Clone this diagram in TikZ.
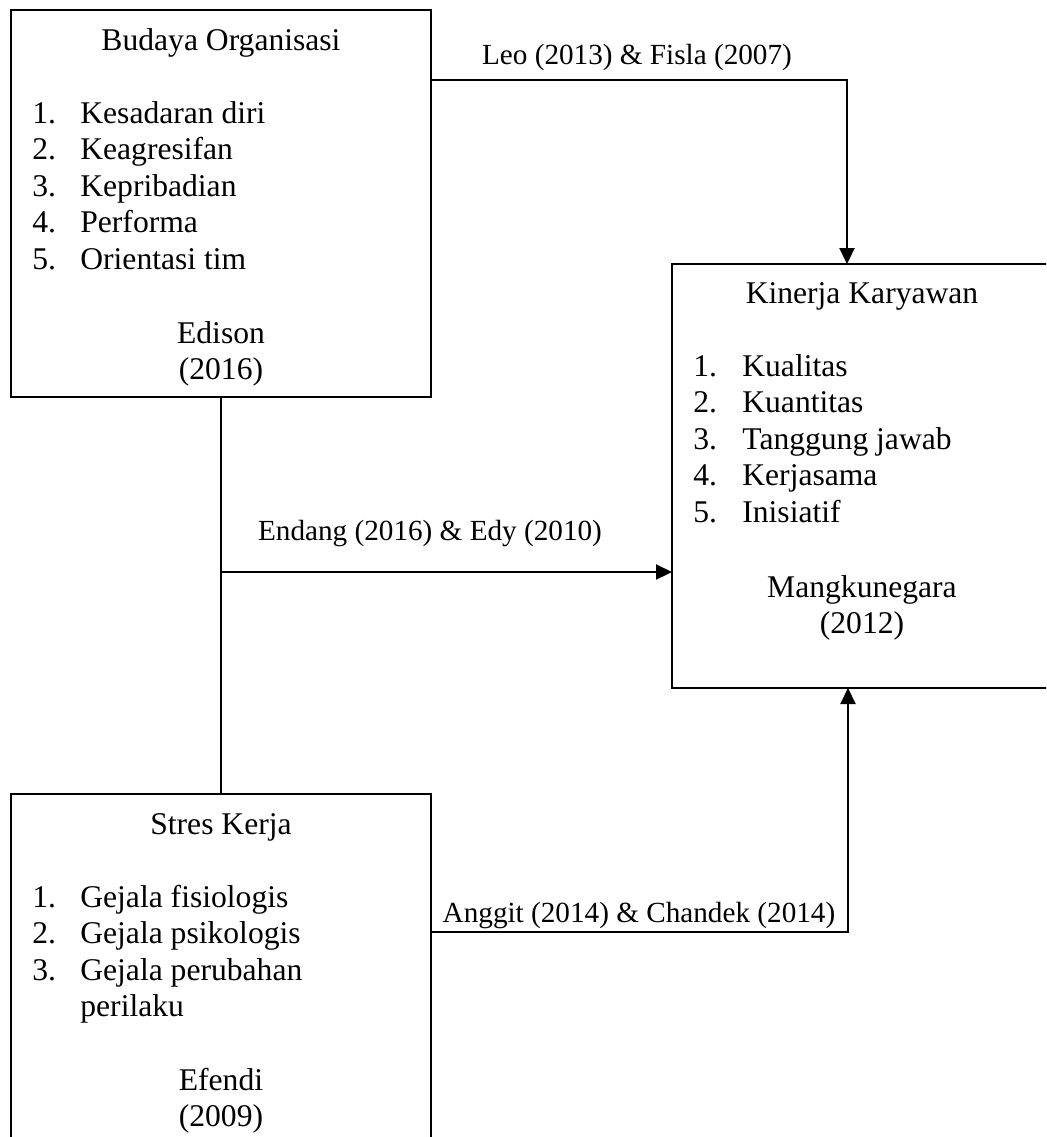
\documentclass[tikz,border=0pt]{standalone}
\usepackage{fontspec}
\setmainfont{Liberation Serif}
\usetikzlibrary{arrows.meta}

\begin{document}
\begin{tikzpicture}[
  x=0.5pt, y=-0.5pt,
  kotak/.style={draw, line width=1.1pt, inner sep=0pt, outer sep=0pt, anchor=north west},
  isi/.style={inner sep=0pt, font=\fontsize{15.8pt}{18.25pt}\selectfont},
  ket/.style={inner sep=0pt, anchor=base, font=\fontsize{14.6pt}{16.8pt}\selectfont},
  garis/.style={line width=1.1pt},
  panah/.style={-{Triangle[length=8pt, width=7.5pt]}, line width=1.1pt},
]

\useasboundingbox (0,0) rectangle (1046,1137);
\clip (0,0) rectangle (1046,1137);

% Boxes
\node[kotak, minimum width=210pt, minimum height=193.5pt] (budaya) at (11,10) {};
\node[kotak, minimum width=190pt, minimum height=212pt] (kinerja) at (672,264) {};
\node[kotak, minimum width=210pt, minimum height=185pt] (stres) at (11,794) {};

% Budaya Organisasi
\node[isi, anchor=base] (budaya-judul) at (221,50) {Budaya Organisasi};
\node[isi, anchor=base west] (budaya-daftar) at (32,123) {\begin{tabular}[t]{@{}p{24pt}@{}l@{}}
  1. & Kesadaran diri\\
  2. & Keagresifan\\
  3. & Kepribadian\\
  4. & Performa\\
  5. & Orientasi tim
\end{tabular}};
\node[isi, anchor=base] (budaya-sumber) at (221,343) {\begin{tabular}[t]{@{}c@{}}Edison\\(2016)\end{tabular}};

% Kinerja Karyawan
\node[isi, anchor=base] (kinerja-judul) at (862,303) {Kinerja Karyawan};
\node[isi, anchor=base west] (kinerja-daftar) at (693,376) {\begin{tabular}[t]{@{}p{24.5pt}@{}l@{}}
  1. & Kualitas\\
  2. & Kuantitas\\
  3. & Tanggung jawab\\
  4. & Kerjasama\\
  5. & Inisiatif
\end{tabular}};
\node[isi, anchor=base] (kinerja-sumber) at (862,597) {\begin{tabular}[t]{@{}c@{}}Mangkunegara\\(2012)\end{tabular}};

% Stres Kerja
\node[isi, anchor=base] (stres-judul) at (221,834) {Stres Kerja};
\node[isi, anchor=base west] (stres-daftar) at (32,907) {\begin{tabular}[t]{@{}p{24pt}@{}l@{}}
  1. & Gejala fisiologis\\
  2. & Gejala psikologis\\
  3. & Gejala perubahan\\
     & perilaku
\end{tabular}};
\node[isi, anchor=base] (stres-sumber) at (221,1090) {\begin{tabular}[t]{@{}c@{}}Efendi\\(2009)\end{tabular}};

% Connectors
\draw[panah] ([yshift=-35pt]budaya.north east) -| ([xshift=-7.5pt]kinerja.north);
\draw[garis] (budaya.south) -- (stres.north);
\coordinate (cabang) at (221,572);
\draw[panah] (cabang) -- (cabang -| kinerja.west);
\draw[panah] ([yshift=-69pt]stres.north east) -| ([xshift=-7pt]kinerja.south);

% Labels
\node[ket] (ket-leo) at (637,64) {Leo (2013) \& Fisla (2007)};
\node[ket] (ket-endang) at (430,540) {Endang (2016) \& Edy (2010)};
\node[ket] (ket-anggit) at (639,922) {Anggit (2014) \& Chandek (2014)};

\end{tikzpicture}
\end{document}
